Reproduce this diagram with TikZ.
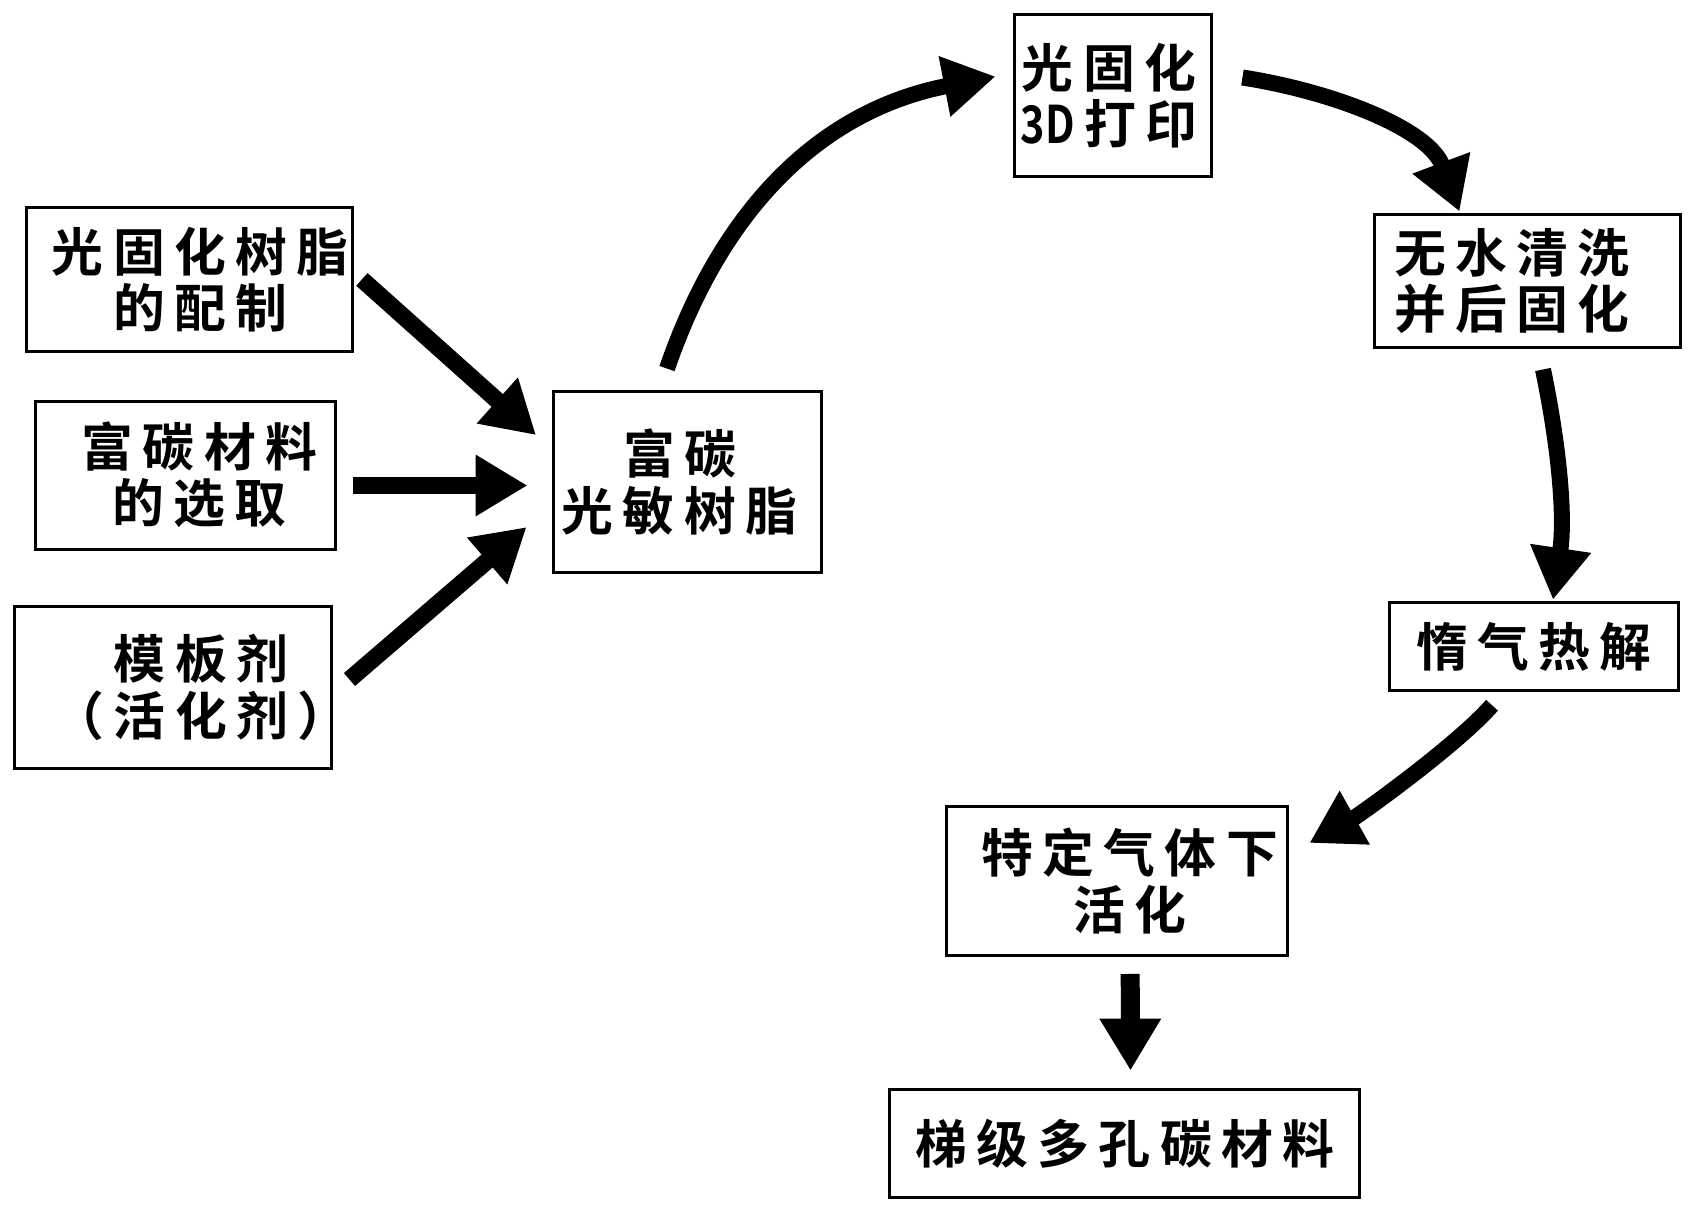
\documentclass[tikz,border=0pt]{standalone}
\usepackage{fontspec}
\newfontfamily\cjk{Noto Sans CJK SC Bold}[LetterSpace=18]
\usetikzlibrary{arrows.meta}

\tikzset{
	stepbox/.style = {draw, line width = 1.7pt, inner sep = 0pt,
		font = \cjk\fontsize{29.5pt}{32pt}\selectfont},
	flow/.style = {line width = 0.32cm, -{Triangle[length = 1.04cm, width = 1.16cm]}}
}
\newcommand{\boxlines}[3]{\hspace*{#1}\vbox{\baselineskip=32pt\halign{\hfil##\hfil\cr#3\crcr}}\hspace*{#2}}

\begin{document}
\begin{tikzpicture}[x = 0.02cm, y = -0.02cm]
	
	\useasboundingbox (0, 0) rectangle (1695, 1214);
	
	% Starting materials
	
	\node [stepbox, minimum width = 6.51cm, minimum height = 2.88cm] (prep) at (189.7, 279.4)
		{\boxlines{0.42cm}{0pt}{光固化树脂\cr 的配制}};
	\node [stepbox, minimum width = 5.99cm, minimum height = 2.96cm] (carbon) at (185.4, 475.1)
		{\boxlines{0.56cm}{0pt}{富碳材料\cr 的选取}};
	\node [stepbox, minimum width = 6.36cm, minimum height = 3.24cm] (template) at (173, 687.5)
		{\boxlines{0.56cm}{-0.56cm}{模板剂\cr （活化剂）}};
	
	% Process steps
	
	\node [stepbox, minimum width = 5.36cm, minimum height = 3.63cm] (resin) at (687.5, 482.1)
		{\boxlines{0pt}{0.32cm}{富碳\cr 光敏树脂}};
	\node [stepbox, minimum width = 3.96cm, minimum height = 3.26cm] (print) at (1113, 95.5)
		{\boxlines{0pt}{0.16cm}{光固化\cr {\addfontfeature{LetterSpace = 0}\scalebox{0.8}[1]{3D}}\hspace{0.18cm}打印}};
	\node [stepbox, minimum width = 6.14cm, minimum height = 2.68cm] (wash) at (1527.5, 281)
		{\boxlines{0pt}{0.63cm}{无水清洗\cr 并后固化}};
	\node [stepbox, minimum width = 5.79cm, minimum height = 1.77cm] (pyro) at (1534, 646.5)
		{\boxlines{0pt}{0pt}{惰气热解}};
	\node [stepbox, minimum width = 6.81cm, minimum height = 2.98cm] (activ) at (1117.2, 881)
		{\boxlines{0.5cm}{0pt}{特定气体下\cr 活化}};
	\node [stepbox, minimum width = 9.40cm, minimum height = 2.16cm] (final) at (1124.8, 1143.7)
		{\boxlines{0pt}{0pt}{梯级多孔碳材料}};
	
	% Arrows into the resin
	
	\begin{scope}[flow]
		
		\begin{scope}[line width = 0.34cm]
			\draw ([shift = {(8, 0)}] prep.east) -- ([shift = {(-16, -47)}] resin.west);
			\draw ([shift = {(16, 10.4)}] carbon.east) -- ([shift = {(-24.5, 3.4)}] resin.west);
			\draw ([shift = {(16, -8)}] template.east) -- ([shift = {(-25.5, 45)}] resin.west);
		\end{scope}
		
	% Round the cycle
		
		\draw ([shift = {(-20.5, -21.3)}] resin.north)
			.. controls +(55, -160) and +(-175, 34) .. ([shift = {(-17, -19)}] print.west);
		\draw ([shift = {(29, -18)}] print.east)
			.. controls +(90, 14) and +(-31, -83) .. ([shift = {(-68, -1)}] wash.north);
		\draw ([shift = {(15.5, 20)}] wash.south)
			.. controls +(17, 82) and +(12, -81) .. ([shift = {(19, -1)}] pyro.north);
		\draw ([shift = {(-42, 13)}] pyro.south)
			.. controls +(-35, 40) and +(50, -28) .. ([shift = {(20.5, -38)}] activ.east);
		
		\draw [line width = 0.38cm] ([shift = {(13, 17)}] activ.south) -- ([shift = {(5.7, -17.6)}] final.north);
		
	\end{scope}

\end{tikzpicture}
\end{document}
